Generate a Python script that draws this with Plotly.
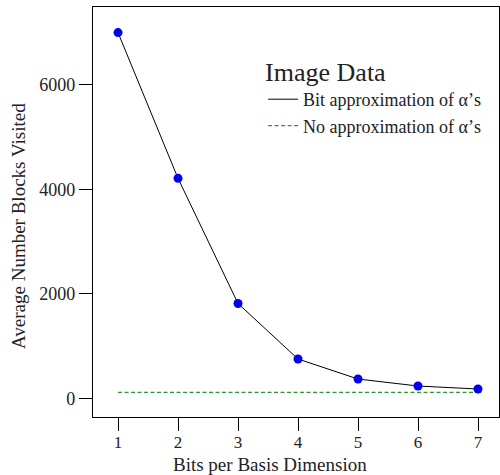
import plotly.graph_objects as go

bits = [1, 2, 3, 4, 5, 6, 7]
blocks_bit_approx = [7000, 4210, 1815, 752, 369, 235, 178]
blocks_no_approx = [115, 115, 115, 115, 115, 115, 115]
x_ticks = [1, 2, 3, 4, 5, 6, 7]
y_ticks = [0, 2000, 4000, 6000]

font_family = "Liberation Serif, DejaVu Serif, serif"
txt = "#222"

fig = go.Figure()
fig.add_trace(go.Scatter(
    x=bits, y=blocks_bit_approx, mode="lines",
    line=dict(color="black", width=1),
    name="Bit approximation of α’s",
))
fig.add_trace(go.Scatter(
    x=bits, y=blocks_no_approx, mode="lines",
    line=dict(color="#2e9a2e", width=1.2, dash="4px,2.5px"),
    name="No approximation of α’s",
))
fig.add_trace(go.Scatter(
    x=bits, y=blocks_bit_approx, mode="markers",
    marker=dict(color="#0000f0", size=9),
    showlegend=False,
))

fig.update_layout(
    width=500, height=475,
    margin=dict(l=93, r=1, t=7, b=58),
    paper_bgcolor="white", plot_bgcolor="white",
    font=dict(family=font_family, size=18, color=txt),
    showlegend=True,
    legend=dict(
        x=0.419, y=0.902, xanchor="left", yanchor="top",
        bgcolor="rgba(0,0,0,0)",
        font=dict(size=18, family=font_family, color=txt),
        title=dict(text="Image Data", side="top", font=dict(size=26, family=font_family, color=txt)),
        itemwidth=30, tracegroupgap=0,
    ),
    xaxis=dict(
        range=[0.583, 7.35], tickvals=x_ticks, ticktext=[str(v) for v in x_ticks],
        showgrid=False, zeroline=False, automargin=False,
        showline=True, mirror=True, linecolor="black", linewidth=1.3,
        ticks="outside", ticklen=13, tickcolor="black", tickwidth=1,
        ticklabelstandoff=-4,
        tickfont=dict(size=17),
    ),
    yaxis=dict(
        range=[-358, 7490], tickvals=y_ticks, ticktext=[str(v) for v in y_ticks],
        showgrid=False, zeroline=False, automargin=False,
        showline=True, mirror=True, linecolor="black", linewidth=1.3,
        ticks="outside", ticklen=13, tickcolor="black", tickwidth=1,
        tickfont=dict(size=18),
    ),
    annotations=[
        dict(text="Bits per Basis Dimension", xref="paper", yref="paper",
             x=(270 - 93) / 406, y=-(464 - 417) / 410, xanchor="center", yanchor="middle",
             showarrow=False, font=dict(size=19, family=font_family, color=txt)),
        dict(text="Average Number Blocks Visited", xref="paper", yref="paper",
             x=-(93 - 18) / 406, y=(417 - 226) / 410, xanchor="center", yanchor="middle",
             textangle=-90, showarrow=False, font=dict(size=19, family=font_family, color=txt)),
    ],
)

fig.write_html("out.html", config={"displayModeBar": False},
               post_script="document.body.style.margin='0px';")
